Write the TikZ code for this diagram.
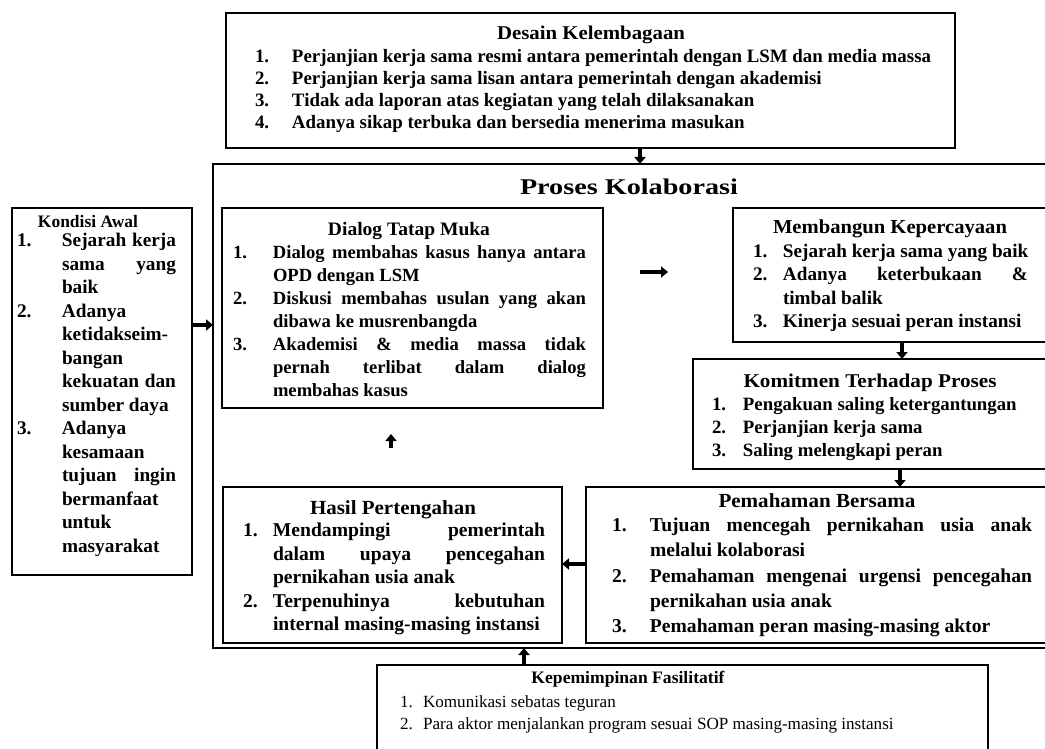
\documentclass[tikz,border=0pt]{standalone}
\usepackage{fontspec}
\setmainfont{Liberation Serif}
\usepackage{graphicx}
\usetikzlibrary{arrows.meta}
\newlength\numw
\newlength\txtw
\newcommand\numL[2]{\hbox{\makebox[\numw][l]{#1}#2}}
\newcommand\numJ[2]{\hbox{\makebox[\numw][l]{#1}\makebox[\txtw][s]{#2}}}
\newcommand\conL[1]{\hbox{\kern\numw #1}}
\newcommand\conJ[1]{\hbox{\kern\numw\makebox[\txtw][s]{#1}}}
\newcommand\blk[5]{\fontsize{#1}{#2}\selectfont\bfseries\setlength\numw{#3}\setlength\txtw{#4}\vtop{\baselineskip=#2\relax\lineskiplimit=-50pt\relax\lineskip=0pt\relax #5}}
\newcommand\ttl[3]{\fontsize{#1}{#1}\selectfont\bfseries\resizebox{#2}{\height}{#3}}
\begin{document}
\begin{tikzpicture}[x=1pt,y=-1pt,
 box/.style={draw, line width=1.6pt, inner sep=0pt, outer sep=0pt, rectangle},
 txt/.style={inner sep=0pt, outer sep=0pt, anchor=base west},
 ttlnode/.style={inner sep=0pt, outer sep=0pt, anchor=base},
 arr/.style={line width=3.4pt, -{Triangle[length=7pt,width=11pt]}}]
\useasboundingbox (0,0) rectangle (1045,749);
\fill[white] (0,0) rectangle (1045,749);
\clip (0,0) rectangle (1045,749);

% boxes
\node[box, minimum width=729pt, minimum height=135pt] (desain) at (590.5,80.5) {};
\node[box, minimum width=850pt, minimum height=484pt] (outer) at (638,406) {};
\node[box, minimum width=180pt, minimum height=367pt] (kondisi) at (102,391.5) {};
\node[box, minimum width=381pt, minimum height=200pt] (dialog) at (412.5,308) {};
\node[box, minimum width=316pt, minimum height=134pt] (membangun) at (891,275) {};
\node[box, minimum width=356pt, minimum height=110pt] (komitmen) at (871,414) {};
\node[box, minimum width=463pt, minimum height=156pt] (pemahaman) at (817.5,565) {};
\node[box, minimum width=339pt, minimum height=156pt] (hasil) at (392.5,565) {};
\node[box, minimum width=611pt, minimum height=100pt] (kepem) at (682.5,715) {};

% Desain Kelembagaan
\node[ttlnode] (desain-h) at (591,39.5) {\ttl{19.5pt}{188pt}{Desain Kelembagaan}};
\node[txt] (desain-t) at (255,62.5) {\blk{18.9pt}{22pt}{37pt}{640pt}{
\numL{1.}{Perjanjian kerja sama resmi antara pemerintah dengan LSM dan media massa}
\numL{2.}{Perjanjian kerja sama lisan antara pemerintah dengan akademisi}
\numL{3.}{Tidak ada laporan atas kegiatan yang telah dilaksanakan}
\numL{4.}{Adanya sikap terbuka dan bersedia menerima masukan}}};

% Proses Kolaborasi title
\node[ttlnode] (outer-h) at (629,195) {\ttl{22.5pt}{218pt}{Proses Kolaborasi}};

% Kondisi Awal
\node[ttlnode] (kondisi-h) at (88,227) {\ttl{17.5pt}{100pt}{Kondisi Awal}};
\node[txt] (kondisi-t) at (17,247) {\blk{19.3pt}{23.5pt}{45pt}{114pt}{
\numJ{1.}{Sejarah kerja}
\conJ{sama yang}
\conL{baik}
\numL{2.}{Adanya}
\conL{ketidakseim-}
\conL{bangan}
\conJ{kekuatan dan}
\conL{sumber daya}
\numL{3.}{Adanya}
\conL{kesamaan}
\conJ{tujuan ingin}
\conL{bermanfaat}
\conL{untuk}
\conL{masyarakat}}};

% Dialog Tatap Muka
\node[ttlnode] (dialog-h) at (409,235.5) {\ttl{19pt}{162pt}{Dialog Tatap Muka}};
\node[txt] (dialog-t) at (233,258.5) {\blk{18.6pt}{23pt}{40pt}{313pt}{
\numJ{1.}{Dialog membahas kasus hanya antara}
\conL{OPD dengan LSM}
\numJ{2.}{Diskusi membahas usulan yang akan}
\conL{dibawa ke musrenbangda}
\numJ{3.}{Akademisi \& media massa tidak}
\conJ{pernah terlibat dalam dialog}
\conL{membahas kasus}}};

% Membangun Kepercayaan
\node[ttlnode] (membangun-h) at (890,233.5) {\ttl{19.8pt}{234pt}{Membangun Kepercayaan}};
\node[txt] (membangun-t) at (753,257.5) {\blk{19.2pt}{23.3pt}{30pt}{245pt}{
\numL{1.}{Sejarah kerja sama yang baik}
\numJ{2.}{Adanya keterbukaan \&}
\conL{timbal balik}
\numL{3.}{Kinerja sesuai peran instansi}}};

% Komitmen Terhadap Proses
\node[ttlnode] (komitmen-h) at (870,387) {\ttl{19.5pt}{253pt}{Komitmen Terhadap Proses}};
\node[txt] (komitmen-t) at (712,410.5) {\blk{18.8pt}{23pt}{31pt}{280pt}{
\numL{1.}{Pengakuan saling ketergantungan}
\numL{2.}{Perjanjian kerja sama}
\numL{3.}{Saling melengkapi peran}}};

% Pemahaman Bersama
\node[ttlnode] (pemahaman-h) at (817,507.5) {\ttl{20pt}{197pt}{Pemahaman Bersama}};
\node[txt] (pemahaman-t) at (612,531.5) {\blk{19.6pt}{25.3pt}{38pt}{382pt}{
\numJ{1.}{Tujuan mencegah pernikahan usia anak}
\conL{melalui kolaborasi}
\numJ{2.}{Pemahaman mengenai urgensi pencegahan}
\conL{pernikahan usia anak}
\numL{3.}{Pemahaman peran masing-masing aktor}}};

% Hasil Pertengahan
\node[ttlnode] (hasil-h) at (393,514.5) {\ttl{20pt}{166pt}{Hasil Pertengahan}};
\node[txt] (hasil-t) at (243,536.5) {\blk{19.6pt}{23.5pt}{30pt}{272pt}{
\numJ{1.}{Mendampingi pemerintah}
\conJ{dalam upaya pencegahan}
\conL{pernikahan usia anak}
\numJ{2.}{Terpenuhinya kebutuhan}
\conL{internal masing-masing instansi}}};

% Kepemimpinan Fasilitatif
\node[ttlnode] (kepem-h) at (628,683.5) {\ttl{17.5pt}{193pt}{Kepemimpinan Fasilitatif}};
\node[txt] (kepem-t) at (400,707.5) {\blk{17.1pt}{21.5pt}{23pt}{470pt}{\mdseries
\numL{1.}{Komunikasi sebatas teguran}
\numL{2.}{Para aktor menjalankan program sesuai SOP masing-masing instansi}}};

% connectors
\draw[arr] (desain.south -| 640,0) -- (outer.north -| 640,0);
\draw[arr] (kondisi.east |- 0,325) -- (outer.west |- 0,325);
\draw[arr, shorten <=37pt, shorten >=65pt] (dialog.east |- 0,272) -- (membangun.west |- 0,272);
\draw[arr] (membangun.south -| 902,0) -- (komitmen.north -| 902,0);
\draw[arr] (komitmen.south -| 900,0) -- (pemahaman.north -| 900,0);
\draw[arr] (pemahaman.west |- 0,564) -- (hasil.east |- 0,564);
\draw[arr, shorten <=39pt, shorten >=26pt] (hasil.north -| 391,0) -- (dialog.south -| 391,0);
\draw[arr] (kepem.north -| 524,0) -- (outer.south -| 524,0);
\end{tikzpicture}
\end{document}
